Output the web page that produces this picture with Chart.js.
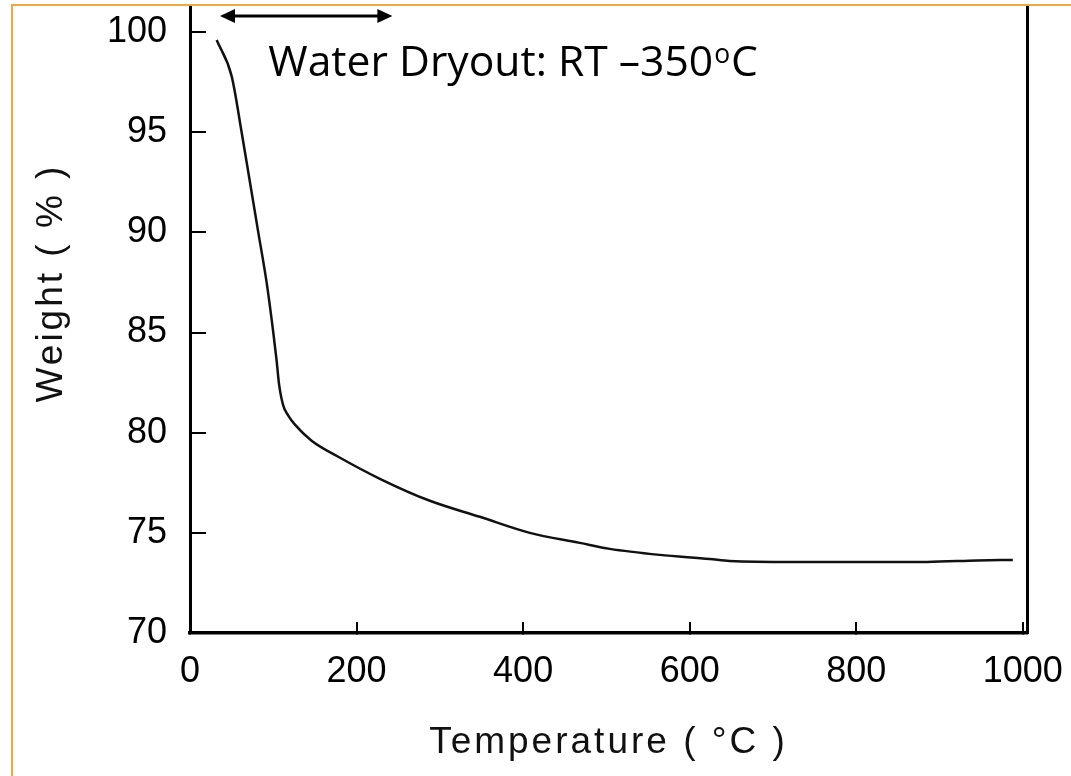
<!DOCTYPE html>
<html>
<head>
<meta charset="utf-8">
<script src="https://cdn.jsdelivr.net/npm/chart.js@4.4.1/dist/chart.umd.min.js"></script>
<style>
    html, body { margin: 0; padding: 0; background: #fff; }
    #wrap { position: relative; width: 1071px; height: 776px; overflow: hidden; }
    #moldura {
        position: absolute; left: 11px; top: 4px; right: -10px; bottom: -10px;
        border-top: 2px solid #f0a840; border-left: 2px solid #f0a840;
        pointer-events: none;
    }
</style>
</head>
<body>
<div id="wrap">
    <canvas id="tgaChart" width="1071" height="776"></canvas>
    <div id="moldura"></div>
</div>
<script>
// =========================
// DADOS (lidos da curva TGA)
// =========================
const temperatura = [32, 50, 62, 72, 82, 92, 100, 104, 107, 112, 118, 126, 146, 178, 228, 288, 348, 408, 468, 504, 564, 624, 648, 724, 825, 885, 945, 988];
const peso = [99.6, 97.8, 95.0, 92.5, 90.0, 87.5, 85.0, 83.6, 82.4, 81.35, 80.85, 80.4, 79.6, 78.8, 77.7, 76.6, 75.8, 75.0, 74.5, 74.2, 73.9, 73.7, 73.6, 73.55, 73.55, 73.55, 73.62, 73.65];

const ticksX = [0, 200, 400, 600, 800, 1000];
const ticksY = [70, 75, 80, 85, 90, 95, 100];

const tituloX = "Temperature ( °C )";
const tituloY = "Weight ( % )";
const notaTexto = "Water Dryout: RT \u2013350";

// seta "RT - 350" em unidades do gráfico
const notaSeta = { de: 36, ate: 243, y: 100.8 };
const notaPos = { x: 94, y: 97.8 };

const fonteEixo = "'Liberation Sans', Arial, sans-serif";

// sem folga automática em volta dos rótulos
function semFolga(s) {
    s.paddingTop = 0;
    s.paddingBottom = 0;
    s.paddingLeft = 0;
    s.paddingRight = 0;
}

// =========================
// TEXTOS E SETA
// =========================
const anotacoes = {
    id: "anotacoes",
    afterDraw(chart) {
        const ctx = chart.ctx;
        const sx = chart.scales.x;
        const sy = chart.scales.y;
        ctx.save();

        // seta dupla
        const x1 = sx.getPixelForValue(notaSeta.de);
        const x2 = sx.getPixelForValue(notaSeta.ate);
        const ya = sy.getPixelForValue(notaSeta.y);
        const cab = 15, meia = 7;
        ctx.strokeStyle = "#000";
        ctx.fillStyle = "#000";
        ctx.lineWidth = 3;
        ctx.beginPath();
        ctx.moveTo(x1 + cab - 2, ya);
        ctx.lineTo(x2 - cab + 2, ya);
        ctx.stroke();
        ctx.beginPath();
        ctx.moveTo(x1, ya);
        ctx.lineTo(x1 + cab, ya - meia);
        ctx.lineTo(x1 + cab, ya + meia);
        ctx.closePath();
        ctx.fill();
        ctx.beginPath();
        ctx.moveTo(x2, ya);
        ctx.lineTo(x2 - cab, ya - meia);
        ctx.lineTo(x2 - cab, ya + meia);
        ctx.closePath();
        ctx.fill();

        // texto da nota, com o "o" sobrescrito
        const tx = sx.getPixelForValue(notaPos.x);
        const ty = sy.getPixelForValue(notaPos.y);
        ctx.font = "40px 'Open Sans', sans-serif";
        const tam = 40 * 445 / ctx.measureText(notaTexto).width;
        ctx.font = tam + "px 'Open Sans', sans-serif";
        ctx.textBaseline = "alphabetic";
        ctx.textAlign = "left";
        ctx.fillText(notaTexto, tx, ty);
        let px = tx + ctx.measureText(notaTexto).width + 1;
        ctx.font = (tam * 0.62) + "px 'Open Sans', sans-serif";
        ctx.fillText("o", px, ty - tam * 0.3);
        px += ctx.measureText("o").width + 1;
        ctx.font = tam + "px 'Open Sans', sans-serif";
        ctx.fillText("C", px, ty);

        // títulos dos eixos
        ctx.font = "37px " + fonteEixo;
        ctx.letterSpacing = "3px";
        ctx.fillStyle = "#111";
        ctx.textAlign = "center";
        ctx.fillText(tituloX, (chart.chartArea.left + chart.chartArea.right) / 2, 753);

        ctx.translate(62, 283);
        ctx.rotate(-Math.PI / 2);
        ctx.fillText(tituloY, 0, 0);

        ctx.restore();
    }
};

// =========================
// GRÁFICO
// =========================
function iniciarTGA() {
    new Chart(document.getElementById("tgaChart"), {
        type: "line",
        data: {
            datasets: [{
                label: "Weight",
                data: temperatura.map((t, i) => ({ x: t, y: peso[i] })),
                borderColor: "#111",
                borderWidth: 2.5,
                pointRadius: 0,
                fill: false,
                cubicInterpolationMode: "monotone"
            }]
        },
        options: {
            responsive: false,
            animation: false,
            devicePixelRatio: 1,
            layout: { autoPadding: false, padding: { top: 6, right: 44, left: 0, bottom: 0 } },
            plugins: {
                legend: { display: false },
                tooltip: { enabled: false }
            },
            scales: {
                x: {
                    type: "linear",
                    min: 0,
                    max: 1005,
                    afterBuildTicks: s => { s.ticks = ticksX.map(v => ({ value: v })); },
                    afterFit: s => { s.height = 143; semFolga(s); },
                    border: { display: true, color: "#000", width: 3.5 },
                    grid: { drawOnChartArea: false, drawTicks: true, tickLength: -11, color: "#000", lineWidth: 2 },
                    ticks: {
                        color: "#000",
                        padding: 28,
                        maxRotation: 0,
                        autoSkip: false,
                        callback: v => String(v),
                        font: { family: fonteEixo, size: 36 }
                    }
                },
                y: {
                    min: 70,
                    max: 101.3,
                    afterBuildTicks: s => { s.ticks = ticksY.map(v => ({ value: v })); },
                    afterFit: s => { s.width = 190; semFolga(s); },
                    border: { display: true, color: "#000", width: 3 },
                    grid: { drawOnChartArea: false, drawTicks: true, tickLength: -16, color: "#000", lineWidth: 2 },
                    ticks: {
                        color: "#000",
                        padding: 39,
                        autoSkip: false,
                        callback: v => String(v),
                        font: { family: fonteEixo, size: 36 }
                    }
                },
                y2: {
                    position: "right",
                    min: 70,
                    max: 101.3,
                    afterFit: s => { s.width = 0; semFolga(s); },
                    border: { display: true, color: "#000", width: 3 },
                    grid: { drawOnChartArea: false, drawTicks: false },
                    ticks: { display: false }
                }
            }
        },
        plugins: [anotacoes]
    });
}

window.onload = () => {
    iniciarTGA();
};
</script>
</body>
</html>
